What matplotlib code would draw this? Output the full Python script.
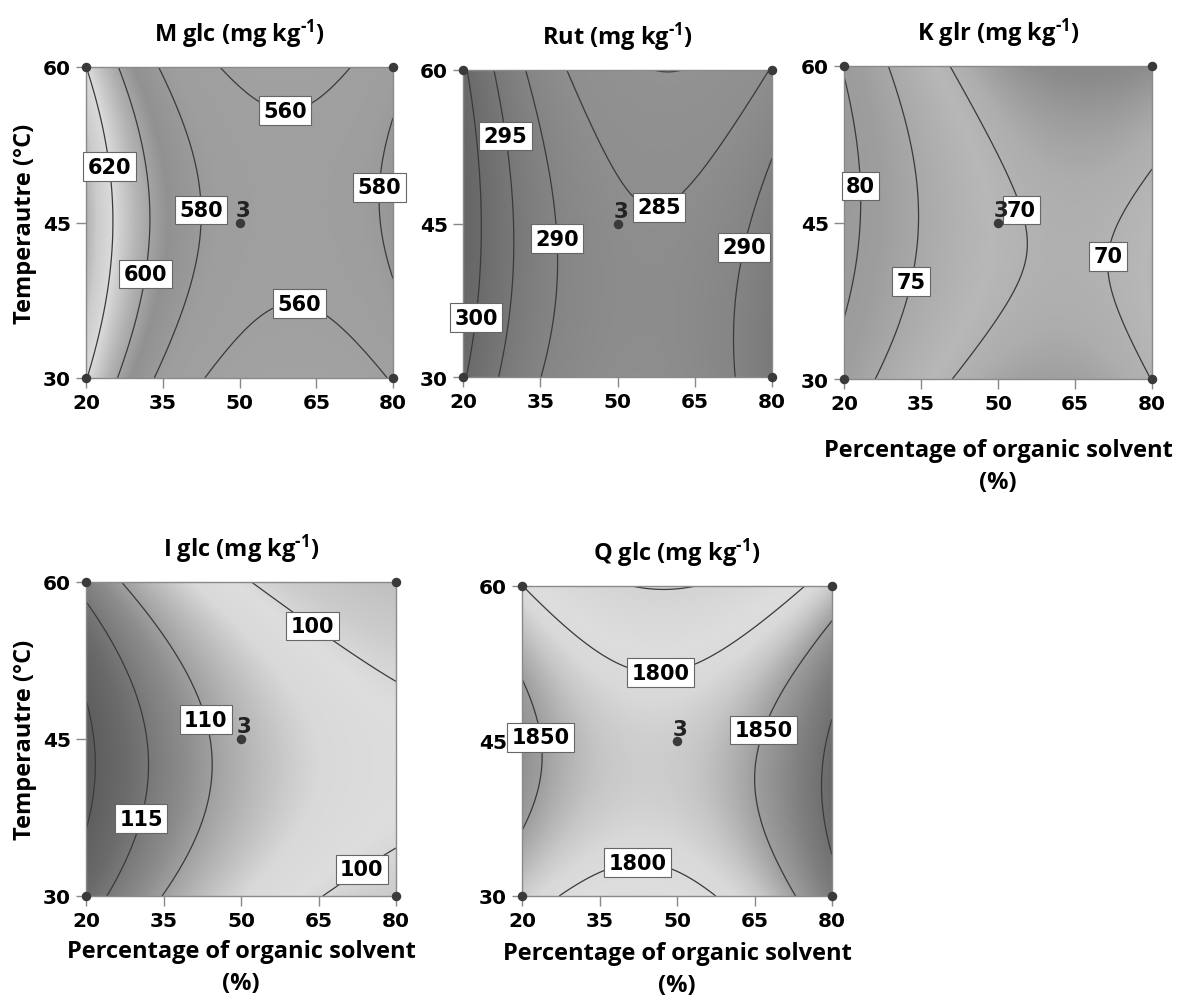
import numpy as np
import matplotlib
matplotlib.use("Agg")
import matplotlib.pyplot as plt
from matplotlib.colors import LinearSegmentedColormap, Normalize

plt.rcParams['font.family'] = ['Open Sans', 'DejaVu Sans']
plt.rcParams['mathtext.fontset'] = 'custom'
plt.rcParams['mathtext.rm'] = 'Open Sans:bold'
plt.rcParams['mathtext.it'] = 'Open Sans:bold'
plt.rcParams['mathtext.bf'] = 'Open Sans:bold'
plt.rcParams['mathtext.default'] = 'rm'

# ---------------- data ----------------
solvent_ticks = [20, 35, 50, 65, 80]
temp_ticks = [30, 45, 60]
design_solvent = [20, 20, 80, 80, 50]
design_temp = [30, 60, 30, 60, 45]
center_runs = 3

titles = ["M glc", "Rut", "K glr", "I glc", "Q glc"]

# coded quadratic model coefficients: b0, b1 (solvent), b2 (temperature), b11, b22, b12
coef_mglc = [570.8, -26.67, 2.5, 40.0, -17.0, 2.8]
coef_rut = [285.93, -5.47, -2.17, 11.9, -2.59, -2.30]
coef_kglr = [70.76, -5.33, -0.51, 5.58, -2.91, -1.45]
coef_iglc = [107.94, -9.70, -1.8, 3.16, -5.5, 0.0]
coef_qglc = [1820.06, 21.66, -20.07, 63.7, -52.24, -10.83]

levels_mglc = [560, 580, 600, 620]
levels_rut = [280, 285, 290, 295, 300]
levels_kglr = [70, 75, 80]
levels_iglc = [100, 110, 115, 120]
levels_qglc = [1750, 1800, 1850, 1900]

labeled_mglc = [560, 580, 600, 620]
labeled_rut = [285, 290, 295, 300]
labeled_kglr = [70, 75, 80]
labeled_iglc = [100, 110, 115]
labeled_qglc = [1800, 1850]

# ---------------- style ----------------
label_pos = [
    [(24.9, 50.4), (31.9, 40.0), (42.6, 46.2), (77.5, 48.4), (58.9, 56.3), (62.1, 38.3)],
    [(29.1, 53.6), (24.3, 35.7), (38.2, 43.5), (57.9, 47.0), (74.4, 42.7)],
    [(23.3, 48.5), (33.5, 39.3), (55.9, 46.4), (70.5, 41.8)],
    [(64.0, 55.9), (43.5, 46.9), (30.5, 37.4), (72.4, 33.3)],
    [(46.7, 52.8), (25.7, 45.5), (66.1, 46.2), (42.3, 34.4)],
]
gray_stops = [
    [(540, 0.64), (575, 0.62), (592, 0.57), (606, 0.70), (620, 0.86), (630, 0.80), (640, 0.66)],
    [(278, 0.58), (285, 0.56), (290, 0.52), (295, 0.47), (300, 0.42), (308, 0.37)],
    [(62, 0.48), (66, 0.55), (69, 0.68), (71, 0.72), (75, 0.66), (78, 0.62), (83, 0.60)],
    [(94, 0.75), (98, 0.80), (101, 0.87), (104, 0.85), (108, 0.70), (112, 0.55), (117, 0.42), (122, 0.34)],
    [(1740, 0.82), (1790, 0.87), (1810, 0.85), (1825, 0.78), (1850, 0.62), (1880, 0.50), (1915, 0.40)],
]
# axes boxes in pixels: left, right, top, bottom
W, H = 1178, 1004
boxes = [(86, 393, 68, 379), (463, 772, 71, 378), (844, 1152, 67, 380),
         (86, 396, 583, 897), (522, 832, 587, 897)]
show_ylabel = [True, False, False, True, False]
show_xlabel = [False, False, True, True, True]
xlabel_pad = [10, 10, 18, 6.0, 7.5]

coefs = [coef_mglc, coef_rut, coef_kglr, coef_iglc, coef_qglc]
levels = [levels_mglc, levels_rut, levels_kglr, levels_iglc, levels_qglc]
labeled = [labeled_mglc, labeled_rut, labeled_kglr, labeled_iglc, labeled_qglc]

fig = plt.figure(figsize=(W / 100, H / 100), dpi=100)

xs = np.linspace(20, 80, 400)
ts = np.linspace(30, 60, 400)
X, T = np.meshgrid(xs, ts)
U = (X - 50) / 30.0
TT = (T - 45) / 15.0

tickfont = dict(family='DejaVu Sans', weight='bold', size=14.5)

for i in range(5):
    l, r, tp, bt = boxes[i]
    ax = fig.add_axes([l / W, 1 - bt / H, (r - l) / W, (bt - tp) / H])
    b0, b1, b2, b11, b22, b12 = coefs[i]
    Z = b0 + b1 * U + b2 * TT + b11 * U ** 2 + b22 * TT ** 2 + b12 * U * TT

    stops = gray_stops[i]
    vmin, vmax = stops[0][0], stops[-1][0]
    cmap = LinearSegmentedColormap.from_list(
        "g%d" % i, [((v - vmin) / (vmax - vmin), (g, g, g)) for v, g in stops])
    ax.imshow(Z, extent=[20, 80, 30, 60], origin='lower', aspect='auto',
              cmap=cmap, norm=Normalize(vmin, vmax), interpolation='bilinear', zorder=0)

    unl = [v for v in levels[i] if v not in labeled[i]]
    if unl:
        ax.contour(X, T, Z, levels=unl, colors='#3a3a3a', linewidths=0.9, zorder=2)
    cs = ax.contour(X, T, Z, levels=labeled[i], colors='#3a3a3a', linewidths=0.9, zorder=2)
    cl = ax.clabel(cs, manual=label_pos[i], inline=False, fmt='%d', fontsize=15)
    for txt in cl:
        txt.set_rotation(0)
        txt.set_fontfamily('DejaVu Sans')
        txt.set_fontweight('bold')
        txt.set_color('black')
        txt.set_bbox(dict(facecolor='white', edgecolor='#666666', linewidth=0.8, pad=3.2))
        txt.set_zorder(6)
        txt.set_clip_on(False)

    ax.scatter(design_solvent, design_temp, s=34, color='#3a3a3a', clip_on=False, zorder=7)
    ax.text(50.6, 46.2, str(center_runs), fontsize=15.5, fontfamily='DejaVu Sans',
            fontweight='bold', color='#222222', ha='center', va='center', zorder=7)

    ax.set_xlim(20, 80)
    ax.set_ylim(30, 60)
    ax.set_xticks(solvent_ticks)
    ax.set_yticks(temp_ticks)
    ax.set_xticklabels([str(v) for v in solvent_ticks], fontdict=tickfont)
    ax.set_yticklabels([str(v) for v in temp_ticks], fontdict=tickfont)
    ax.tick_params(direction='out', length=7, width=1, color='#888888', pad=4)
    for s in ax.spines.values():
        s.set_color('#8a8a8a')
        s.set_linewidth(1.0)

    ax.set_title(titles[i] + r" (mg kg$^{\text{-1}}$)", fontsize=17, fontweight='bold', pad=19)
    if show_ylabel[i]:
        ax.set_ylabel("Temperautre (\u00b0C)", fontsize=17, fontweight='bold', labelpad=4)
    if show_xlabel[i]:
        ax.set_xlabel("Percentage of organic solvent\n(%)", fontsize=17,
                      fontweight='bold', labelpad=xlabel_pad[i], linespacing=1.45)

fig.savefig("out.png", dpi=100)
